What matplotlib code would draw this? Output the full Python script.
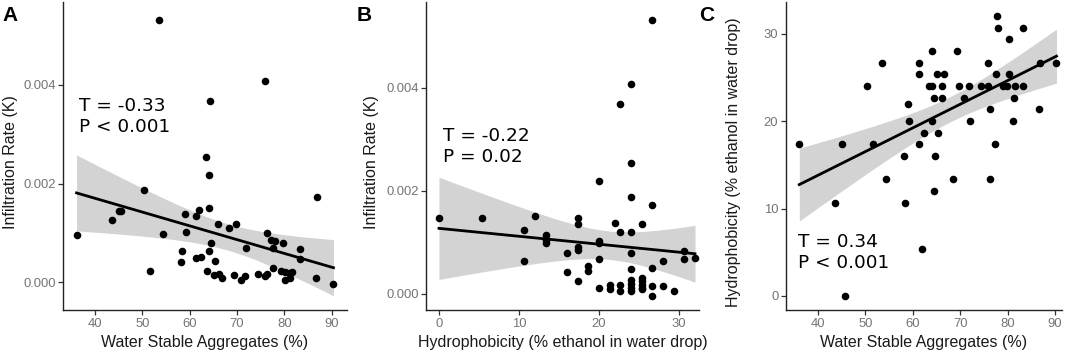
import numpy as np
import matplotlib
matplotlib.use("Agg")
import matplotlib.pyplot as plt

# ---------------- data ----------------
# Panel A: Water stable aggregates (%) vs infiltration rate (x1e-3)
wsa_a = [53.5, 75.9, 64.3, 63.5, 64.1, 50.3, 87.0, 36.1, 43.5, 45.1,
         45.6, 54.3, 51.7, 59.0, 59.2, 58.3, 58.2, 61.3, 62.0, 61.3,
         62.3, 64.2, 64.1, 64.6, 63.7, 65.4, 65.1, 66.2, 66.8, 66.1,
         68.3, 69.8, 69.3, 70.8, 72.0, 71.8, 74.4, 75.9, 76.3, 76.3,
         77.2, 78.0, 77.7, 77.6, 79.7, 79.3, 80.2, 80.2, 81.1, 81.3,
         81.6, 83.4, 83.4, 86.7, 90.4]
infil_a = [5.32, 4.07, 3.68, 2.53, 2.18, 1.87, 1.72, 0.95, 1.26, 1.45,
           1.45, 0.98, 0.24, 1.38, 1.02, 0.63, 0.42, 1.35, 1.46, 0.49,
           0.52, 1.50, 0.64, 0.79, 0.24, 0.43, 0.15, 0.17, 0.09, 1.18,
           1.11, 1.18, 0.15, 0.05, 0.69, 0.13, 0.16, 0.13, 0.16, 1.00,
           0.85, 0.83, 0.69, 0.29, 0.79, 0.24, 0.21, 0.05, 0.19, 0.09,
           0.21, 0.67, 0.47, 0.09, -0.04]

# Panel B: hydrophobicity (% ethanol) vs infiltration rate (x1e-3)
hydro_b = [0, 5.33, 10.67, 10.67, 12, 13.33, 13.33, 13.33, 16, 16,
           17.33, 17.33, 17.33, 17.33, 17.33, 18.67, 18.67,
           20, 20, 20, 20, 20, 21.33, 21.33, 22,
           22.67, 22.67, 22.67, 22.67,
           24, 24, 24, 24, 24, 24, 24, 24, 24, 24,
           25.33, 25.33, 25.33, 25.33, 25.33, 25.33,
           26.67, 26.67, 26.67, 26.67, 26.67,
           28, 28, 29.33, 30.67, 30.67, 32]
infil_b = [1.46, 1.47, 1.24, 0.63, 1.50, 1.13, 1.05, 0.98, 0.79, 0.41,
           1.46, 1.36, 0.90, 0.84, 0.24, 0.53, 0.43,
           2.18, 1.03, 0.99, 0.68, 0.11, 0.17, 0.09, 1.38,
           3.68, 1.19, 0.17, 0.04,
           4.08, 2.53, 1.88, 1.19, 0.78, 0.47, 0.27, 0.19, 0.11, 0.04,
           1.35, 0.30, 0.24, 0.17, 0.11, 0.08,
           5.32, 1.72, 0.50, 0.14, -0.04,
           0.64, 0.15, 0.04, 0.82, 0.67, 0.69]

# Panel C: water stable aggregates (%) vs hydrophobicity (% ethanol)
wsa_c = [36.1, 43.6, 45.2, 45.7, 50.3, 51.7, 53.5, 54.4, 58.1, 58.3,
         59.0, 59.2, 61.3, 61.3, 61.3, 62.0, 62.4, 63.4, 64.0, 64.1,
         64.4, 64.1, 64.4, 64.6, 65.1, 65.4, 66.2, 66.2, 66.7, 68.4,
         69.3, 69.8, 70.9, 71.9, 72.1, 74.4, 75.8, 75.8, 76.3, 76.3,
         77.3, 77.6, 77.7, 77.9, 79.1, 79.8, 80.2, 80.2, 81.1, 81.4,
         81.6, 83.3, 83.3, 86.7, 86.8, 90.3]
hydro_c = [17.33, 10.67, 17.33, 0, 24, 17.33, 26.67, 13.33, 16, 10.67,
           22, 20, 26.67, 25.33, 17.33, 5.33, 18.67, 24, 24, 28,
           22.67, 20, 12, 16, 25.33, 18.67, 24, 22.67, 25.33, 13.33,
           28, 24, 22.67, 24, 20, 24, 24, 26.67, 21.33, 13.33,
           17.33, 25.33, 32, 30.67, 24, 24, 29.33, 25.33, 20, 22.67,
           24, 30.67, 24, 21.33, 26.67, 26.67]

labels_stats = ["T = -0.33\nP < 0.001", "T = -0.22\nP = 0.02", "T = 0.34\nP < 0.001"]

# ---------------- style ----------------
W, H = 1072, 352
fig = plt.figure(figsize=(W / 100, H / 100), dpi=100)
TICK_COL = "#747474"
SANS = ["Liberation Sans", "DejaVu Sans"]
T_CRIT = 2.006


def fit_band(x, y, n_pts=100):
    x = np.asarray(x, float)
    y = np.asarray(y, float)
    b, a = np.polyfit(x, y, 1)
    xs = np.linspace(x.min(), x.max(), n_pts)
    yhat = a + b * xs
    resid = y - (a + b * x)
    n = len(x)
    s = np.sqrt(np.sum(resid ** 2) / (n - 2))
    se = s * np.sqrt(1 / n + (xs - x.mean()) ** 2 / np.sum((x - x.mean()) ** 2))
    return xs, yhat, yhat - T_CRIT * se, yhat + T_CRIT * se


def make_axes(left_px, right_px, top_px, bottom_px):
    return fig.add_axes([left_px / W, 1 - bottom_px / H,
                         (right_px - left_px) / W, (bottom_px - top_px) / H])


def style(ax):
    for s in ("top", "right"):
        ax.spines[s].set_visible(False)
    for s in ("left", "bottom"):
        ax.spines[s].set_linewidth(1.0)
        ax.spines[s].set_color("#222222")
    ax.tick_params(axis="both", length=3.5, width=0.9, color="#333333",
                   labelcolor=TICK_COL, labelsize=9.4, pad=2)
    for lab in ax.get_xticklabels() + ax.get_yticklabels():
        lab.set_family(SANS)


def panel(ax, x, y, xlim, ylim, xticks, yticks, yticklabels, xlabel, ylabel,
          stat, stat_xy, ylab_x, letter, letter_px):
    xs, yh, lo, hi = fit_band(x, y)
    ax.fill_between(xs, lo, hi, color="#d3d3d3", lw=0, zorder=1)
    ax.scatter(x, y, s=30, color="black", lw=0, zorder=2)
    ax.plot(xs, yh, color="black", lw=2.0, zorder=3)
    ax.set_xlim(*xlim)
    ax.set_ylim(*ylim)
    ax.set_xticks(xticks)
    ax.set_yticks(yticks)
    ax.set_yticklabels(yticklabels)
    style(ax)
    ax.text(0.5, -0.104, xlabel, transform=ax.transAxes, ha="center",
            va="center", fontsize=11.5, family=SANS, color="#1a1a1a")
    ax.text(ylab_x, 0.48, ylabel, transform=ax.transAxes, ha="center",
            va="center", rotation=90, fontsize=11.5, family=SANS, color="#1a1a1a")
    ax.text(stat_xy[0], stat_xy[1], stat, transform=ax.transAxes, ha="left",
            va="top", fontsize=13.3, family="DejaVu Sans", color="black",
            linespacing=1.2)
    fig.text(letter_px[0] / W, 1 - letter_px[1] / H, letter, ha="left",
             va="top", fontsize=15, fontweight="bold", family=SANS)


# Panel A
axA = make_axes(63.3, 346.7, 2, 310)
panel(axA, wsa_a, np.array(infil_a) * 1e-3, (33.3, 93.2), (-0.00056, 0.00568),
      [40, 50, 60, 70, 80, 90], [0, 0.002, 0.004], ["0.000", "0.002", "0.004"],
      "Water Stable Aggregates (%)", "Infiltration Rate (K)",
      labels_stats[0], (0.055, 0.69), -0.188, "A", (2, 6))

# Panel B
axB = make_axes(426.2, 699, 2, 310)
panel(axB, hydro_b, np.array(infil_b) * 1e-3, (-1.6, 32.5), (-0.00032, 0.00567),
      [0, 10, 20, 30], [0, 0.002, 0.004], ["0.000", "0.002", "0.004"],
      "Hydrophobicity (% ethanol in water drop)", "Infiltration Rate (K)",
      labels_stats[1], (0.063, 0.595), -0.20, "B", (357, 6))

# Panel C
axC = make_axes(786, 1061.7, 2, 310)
panel(axC, wsa_c, hydro_c, (33.3, 91.4), (-1.6, 33.6),
      [40, 50, 60, 70, 80, 90], [0, 10, 20, 30], ["0", "10", "20", "30"],
      "Water Stable Aggregates (%)", "Hydrophobicity (% ethanol in water drop)",
      labels_stats[2], (0.045, 0.25), -0.19, "C", (699, 6))

fig.savefig("out.png", dpi=100)
